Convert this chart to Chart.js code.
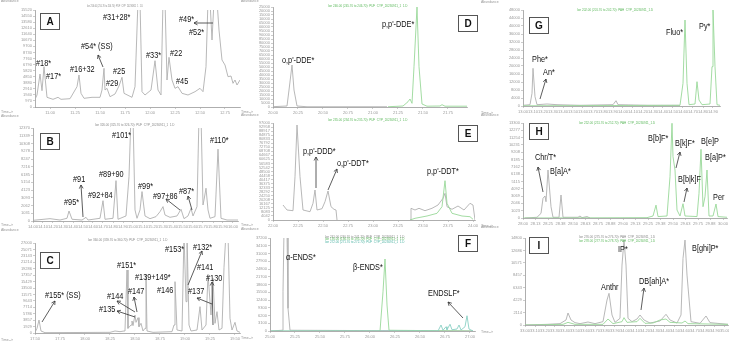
<!DOCTYPE html>
<html><head><meta charset="utf-8">
<script src="https://cdn.jsdelivr.net/npm/chart.js@4"></script>
<style>
body{margin:0;background:#fff;width:729px;height:343px;overflow:hidden;position:relative}
canvas{position:absolute}
</style></head><body>
<canvas id="bg" width="729" height="343" style="left:0;top:0"></canvas>
<script>
// ---------- DATA (retention time in min, abundance) ----------
const A_time=[10.85,10.87,10.90,10.92,10.94,10.97,11.03,11.08,11.11,11.20,11.27,11.29,11.31,11.34,11.42,11.50,11.52,11.54,11.55,11.57,11.60,11.65,11.69,11.72,11.74,11.82,11.85,11.88,11.90,11.92,11.95,12.01,12.05,12.08,12.11,12.13,12.15,12.17,12.19,12.22,12.25,12.28,12.32,12.38,12.45,12.50,12.53,12.56,12.58,12.60,12.62,12.64,12.67,12.69,12.72,12.75,12.78,12.81,12.83,12.85,12.87,12.90];
const A_abund=[1230,1920,5280,2610,6450,1550,1230,1550,1230,1330,3250,5120,2190,1390,1550,1550,2720,6190,2720,2990,1650,2080,3360,4750,2190,1550,3250,17000,17000,2450,1920,2720,7410,2720,1920,17000,17000,4320,7950,4320,2990,3250,2190,1920,2450,2990,2450,6450,17000,17000,10720,17000,17000,12320,7520,6720,4850,4960,3790,4320,3520,4320];

const B_time=[14.00,14.17,14.27,14.34,14.36,14.39,14.49,14.53,14.55,14.67,14.70,14.72,14.80,14.83,14.85,14.93,14.96,14.98,15.00,15.02,15.04,15.07,15.09,15.12,15.17,15.23,15.27,15.30,15.32,15.37,15.44,15.48,15.51,15.55,15.58,15.60,15.64,15.66,15.68,15.70,15.71,15.73,15.75,15.77,15.82,15.85,15.88,15.94,16.05];
const B_abund=[90,310,130,360,1330,230,130,490,130,360,2700,230,360,5370,230,670,5900,14000,14000,1470,360,1470,3910,670,310,580,1240,1910,800,490,670,1560,310,670,1690,670,1910,14000,14000,2130,2800,4360,1470,360,580,9560,360,130,130];

const C_time=[17.50,17.52,17.54,17.56,17.60,18.25,18.30,18.35,18.39,18.40,18.42,18.43,18.46,18.47,18.48,18.50,18.51,18.53,18.54,18.56,18.58,18.60,18.61,18.62,18.68,18.87,18.89,18.90,18.92,18.97,18.99,19.01,19.02,19.04,19.06,19.12,19.15,19.17,19.21,19.23,19.26,19.28,19.30,19.32,19.34,19.37,19.39,19.41,19.43,19.45,19.47,19.50,19.52,19.55];
const C_abund=[200,1400,3900,600,100,200,600,400,600,900,18900,1400,2400,3600,2200,5400,3200,4600,1900,2900,600,1400,17400,600,200,400,2400,15400,900,600,30000,9400,30000,2400,600,900,7900,900,2400,17600,5400,16400,2900,6400,900,1400,19700,30000,30000,4400,900,3200,600,200];

const D_grey_time=[20.00,20.14,20.16,20.19,20.21,20.24,20.34,21.14];
const D_grey=[400,1250,21250,52500,21250,1250,300,300];
const D_green_time=[21.15,21.30,21.35,21.37,21.39,21.41,21.44,21.46,21.49,21.54,21.67,21.69,21.72,21.94];
const D_green=[300,1250,6600,10000,4600,50400,125000,50400,3750,1000,1250,2900,1000,1000];

const E_grey_time=[22.10,22.14,22.20,22.22,22.24,22.27,22.30,22.37,22.40,22.42,22.44,22.49,22.52,22.55,22.58,22.61,22.63,22.64,23.00,23.37,23.38,23.42,23.46,23.52,23.59,23.65,23.70,23.72,23.74,23.79,23.85,23.91,23.97,24.00,24.02];
const E_grey=[15000,10000,9300,43300,95000,43300,10000,8300,16700,30000,10000,11300,18300,29000,13300,10700,10000,0,null,0,11700,10000,11700,9300,11700,15000,21700,26700,13300,10700,14000,10000,16700,15000,0];
const E_green_time=[23.37,23.42,23.54,23.64,23.69,23.72,23.74,23.79,23.89,23.97,24.00];
const E_green=[0,1700,4000,6700,13300,39300,16700,6700,4000,3300,700];

const F_grey_time=[25.01,25.12,25.13,25.14,25.17,25.18,25.20,27.03];
const F_grey=[0,300,15700,40000,40000,9100,300,0];
const F_green_time=[25.01,26.10,26.13,26.15,26.17,26.19,27.03];
const F_green=[0,0,15700,28800,10400,300,0];
const F_teal_time=[25.01,26.68,26.71,26.73,26.76,26.77,26.80,26.82,26.87,26.89,26.91,26.95,26.97,26.99,27.03];
const F_teal=[0,0,2400,300,1700,500,2700,500,800,2400,400,1700,6100,800,0];

const G_grey_time=[13.00,13.07,13.09,13.10,13.12,13.14,13.24,13.34,13.57,13.90,13.93,13.95,14.24,14.57];
const G_grey=[350,650,6350,18850,4650,650,1000,650,350,650,2650,650,350,350];
const G_green_time=[13.00,14.57,14.60,14.62,14.64,14.66,14.72,14.74,14.76,14.79,14.87,14.89,14.90,14.92,14.94,14.97];
const G_green=[100,350,11350,43000,11350,650,1000,12150,3000,650,1000,19650,48000,19650,650,350];

const H_grey_time=[28.02,28.14,28.18,28.20,28.22,28.23,28.25,28.28,28.30,28.36,28.38,28.40,28.55,28.57,28.59,28.64,28.67];
const H_grey=[0,100,650,2760,3080,2280,6720,1580,100,100,3220,100,100,280,50,200,0];
const H_green_time=[28.00,29.24,29.30,29.33,29.35,29.44,29.47,29.49,29.50,29.52,29.54,29.57,29.60,29.62,29.74,29.76,29.78,29.80,29.82,29.84,29.86,29.90,29.93,29.95,30.04];
const H_green=[0,50,280,1800,200,280,5780,13260,8580,6720,1120,280,2000,280,200,3460,9620,1580,2980,6720,280,280,1960,200,100];

const I_grey_time=[33.00,33.22,33.35,33.41,33.43,33.46,33.50,33.55,33.63,33.70,33.78,33.82,33.84,33.87,33.90,33.95,33.97,33.99,34.01,34.03,34.07,34.12,34.15,34.19,34.25,34.35,34.41,34.45,34.52,34.56,34.58,34.60,34.62,34.66,34.75,34.81,34.85,35.03];
const I_grey=[0,110,230,850,2040,850,400,230,510,230,570,4250,5390,1700,450,1130,10200,14450,10200,1130,570,1020,1700,850,340,680,1820,850,340,1700,11330,14450,8500,570,280,1530,400,110];
const I_green_time=[33.00,33.38,33.43,33.50,33.78,33.83,33.88,33.97,33.99,34.02,34.12,34.15,34.20,34.28,34.35,34.41,34.45,34.57,34.60,34.63,35.03];
const I_green=[0,110,450,110,110,1020,230,570,1250,450,570,1130,280,340,850,1020,450,340,680,230,110];

// peak labels [text, time, abundance] and arrows [t1,a1,t2,a2] (tail -> head)
const A_labels=[["#18*",10.86,6880],["#17*",10.96,4800],["#16+32",11.20,5920],["#54* (SS)",11.31,9600],["#29",11.56,3680],["#25",11.63,5600],["#31+28*",11.53,14240],["#33*",11.96,8160],["#22",12.20,8480],["#45",12.26,4000],["#49*",12.29,13920],["#52*",12.39,11840]];
const A_arrows=[[11.53,6400,11.48,8320],[12.63,13440,12.44,13440]];
const B_labels=[["#101*",14.79,11300],["#110*",15.77,10640],["#91",14.40,5450],["#89+90",14.66,6120],["#92+84",14.55,3325],["#95*",14.31,2390],["#99*",15.05,4520],["#97+86",15.20,3190],["#87*",15.46,3860]];
const B_arrows=[[14.50,530,14.48,4790],[15.47,1460,15.33,2930],[15.59,1460,15.55,3325]];
const C_labels=[["#155* (SS)",17.60,11100],["#151*",18.32,20100],["#139+149*",18.50,16500],["#144",18.22,10800],["#147",18.43,12300],["#135",18.14,6900],["#146",18.72,12600],["#153*",18.80,24900],["#132*",19.08,25500],["#141",19.12,19500],["#130",19.21,16200],["#137",19.03,12300]];
const C_arrows=[[17.57,3300,17.70,9600],[18.50,6300,18.32,9600],[18.50,4800,18.32,6600],[18.52,6300,18.49,10800],[19.03,14400,19.17,24600],[19.27,8700,19.12,10500],[19.28,2400,19.27,15300]];
const D_labels=[["o,p'-DDE*",20.09,57500],["p,p'-DDE*",21.09,102500]];
const D_arrows=[];
const E_labels=[["p,p'-DDD*",22.30,68000],["o,p'-DDT*",22.64,56000],["p,p'-DDT*",23.54,48000]];
const E_arrows=[[22.43,32000,22.43,63000],[22.55,30000,22.64,51000]];
const F_labels=[["α-ENDS*",25.16,29200],["β-ENDS*",25.83,25200],["ENDSLF*",26.58,14800]];
const F_arrows=[[26.93,5200,26.78,11600]];
const G_labels=[["Phe*",13.09,23000],["An*",13.20,16500],["Fluo*",14.43,36500],["Py*",14.76,39500]];
const G_arrows=[[13.17,3500,13.23,13500]];
const H_labels=[["Chr/T*",28.12,8400],["B[a]A*",28.27,6440],["B[b]F*",29.25,11060],["B[k]F*",29.52,10360],["B[e]P",29.78,10640],["B[a]P*",29.82,8400],["B[b|k]F",29.55,5320],["Per",29.90,2800]];
const H_arrows=[[28.20,3640,28.15,7140],[29.53,7000,29.57,9240],[29.61,2240,29.64,4200]];
const I_labels=[["Anthr",33.76,6290],["IP*",33.93,12750],["B[ghi]P*",34.67,12920],["DB[ah]A*",34.14,7310]];
const I_arrows=[[34.16,2550,34.19,6290]];

// ---------- STYLE ----------
const GREY='#b0b0b0', GREEN='#98d898', TEAL='#8ad0c4';
const FONT='"Liberation Sans", Arial, sans-serif';
const tag='PUF_CYP_20230911_1_1.D', tagP='PAH_CYP_20230911_1.D';

const PANELS=[
 {name:'A',rect:[35,10,240,107],xr:[10.85,12.90],xs:0.25,ymax:15520,ys:1000,box:[5,3],
  series:[[A_time,A_abund,GREY]],labels:A_labels,arrows:A_arrows,
  titles:[[52,-4,56,'Ion 256.00 (255.70 to 256.70): '+tag,'#888']]},
 {name:'B',rect:[33,128,238,221],xr:[14.00,16.05],xs:0.1,ymax:12370,ys:1000,box:[7,5],
  series:[[B_time,B_abund,GREY]],labels:B_labels,arrows:B_arrows,
  titles:[[62,-3,90,'Ion 326.00 (325.70 to 326.70): '+tag,'#888']]},
 {name:'C',rect:[35,243,240,333],xr:[17.50,19.55],xs:0.25,ymax:27000,ys:2000,box:[5,9],
  series:[[C_time,C_abund,GREY]],labels:C_labels,arrows:C_arrows,
  titles:[[53,-3,87,'Ion 360.00 (359.70 to 360.70): '+tag,'#888']]},
 {name:'D',rect:[273,7,467,107],xr:[20.00,21.94],xs:0.25,ymax:125000,ys:5000,box:[185,8],
  series:[[D_grey_time,D_grey,GREY],[D_green_time,D_green,GREEN]],labels:D_labels,arrows:D_arrows,
  titles:[[55,-1,90,'Ion 246.00 (245.70 to 246.70): '+tag,'#5cb85c']]},
 {name:'E',rect:[273,123,475,220],xr:[22.00,24.02],xs:0.25,ymax:97000,ys:4000,box:[185,2],
  series:[[E_green_time,E_green,GREEN],[E_grey_time,E_grey,GREY]],labels:E_labels,arrows:E_arrows,
  titles:[[55,-3,97,'Ion 235.00 (234.70 to 235.70): '+tag,'#5cb85c']]},
 {name:'F',rect:[270,238,475,331],xr:[25.00,27.05],xs:0.25,ymax:37200,ys:3000,box:[188,-3],
  series:[[F_teal_time,F_teal,TEAL],[F_green_time,F_green,GREEN],[F_grey_time,F_grey,GREY]],labels:F_labels,arrows:F_arrows,
  titles:[[55,-1,92,'Ion 241.00 (240.70 to 241.70): '+tag,'#888'],[55,1.5,92,'Ion 195.00 (194.70 to 195.70): '+tag,'#5cb85c'],[55,4,92,'Ion 272.00 (271.70 to 272.70): '+tag,'#4fb3a3']]},
 {name:'G',rect:[523,10,720,106],xr:[13.00,14.97],xs:0.1,ymax:48000,ys:4000,box:[6,7],
  series:[[G_green_time,G_green,GREEN],[G_grey_time,G_grey,GREY]],labels:G_labels,arrows:G_arrows,
  titles:[[54,0,95,'Ion 202.00 (201.70 to 202.70): '+tagP,'#5cb85c']]},
 {name:'H',rect:[523,123,727,218],xr:[28.00,30.04],xs:0.125,ymax:13300,ys:1000,box:[6,0],
  series:[[H_green_time,H_green,GREEN],[H_grey_time,H_grey,GREY]],labels:H_labels,arrows:H_arrows,
  titles:[[56,0,94,'Ion 252.00 (251.70 to 252.70): '+tagP,'#5cb85c']]},
 {name:'I',rect:[525,238,728,325],xr:[33.00,35.03],xs:0.1,ymax:14800,ys:2000,box:[4,-1],
  series:[[I_green_time,I_green,GREEN],[I_grey_time,I_grey,GREY]],labels:I_labels,arrows:I_arrows,
  titles:[[54,-1,96,'Ion 276.00 (275.70 to 276.70): '+tagP,'#888'],[54,3,96,'Ion 278.00 (277.70 to 278.70): '+tagP,'#5cb85c']]}
];

// small corner captions
const CORNER=[["Abundance",1,1],["Time-->",1,112],["Abundance",1,116],["Time-->",1,225],["Abundance",1,230],["Time-->",1,340],
 ["Abundance",241,1],["Time-->",241,112],["Abundance",241,115],["Time-->",241,225],["Abundance",241,229],["Time-->",241,338],
 ["Abundance",481,2],["Time-->",481,113],["Abundance",481,115],["Time-->",481,226],["Abundance",481,227],["Time-->",481,332]];
(function(){const c=document.getElementById('bg').getContext('2d');c.fillStyle='#999';c.font='3.5px '+FONT;c.textBaseline='middle';
 for(const [t,x,y] of CORNER) c.fillText(t,x,y);})();

const annot={
 id:'annot',
 afterDatasetsDraw(chart,args,o){
  const {ctx,chartArea:a,scales:{x,y}}=chart;
  ctx.save();
  ctx.textBaseline='middle';ctx.textAlign='left';
  for(const [dx,dy,w,t,col] of o.titles){ctx.font='3px '+FONT;ctx.fillStyle=col;ctx.fillText(t,a.left+dx,a.top+dy,w);}
  ctx.strokeStyle='#333';ctx.lineWidth=0.8;
  for(const [x1,y1,x2,y2] of o.arrows){
   const p1x=x.getPixelForValue(x1),p1y=y.getPixelForValue(y1),p2x=x.getPixelForValue(x2),p2y=y.getPixelForValue(y2);
   ctx.beginPath();ctx.moveTo(p1x,p1y);ctx.lineTo(p2x,p2y);
   const ang=Math.atan2(p2y-p1y,p2x-p1x),L=4;
   ctx.moveTo(p2x-L*Math.cos(ang-0.5),p2y-L*Math.sin(ang-0.5));ctx.lineTo(p2x,p2y);
   ctx.lineTo(p2x-L*Math.cos(ang+0.5),p2y-L*Math.sin(ang+0.5));
   ctx.stroke();
  }
  ctx.fillStyle='#111';ctx.font='8.5px '+FONT;
  for(const [t,lx,ly] of o.labels){
   const px=x.getPixelForValue(lx),py=y.getPixelForValue(ly);
   ctx.save();ctx.translate(px,py);ctx.scale(0.86,1);ctx.fillText(t,0,0);ctx.restore();
  }
  const [bx,by]=o.box;
  ctx.strokeStyle='#555';ctx.lineWidth=1;ctx.fillStyle='#fff';
  ctx.fillRect(a.left+bx+0.5,a.top+by+0.5,19,16);
  ctx.strokeRect(a.left+bx+0.5,a.top+by+0.5,19,16);
  ctx.fillStyle='#111';ctx.font='bold 10px '+FONT;ctx.textAlign='center';
  ctx.fillText(o.name,a.left+bx+10,a.top+by+9);
  ctx.restore();
 }
};

const PADR=12;
for(const p of PANELS){
 const [L,T,R,B]=p.rect;
 const cv=document.createElement('canvas');
 const W=R-L+14+PADR,H=B-T+14;
 cv.width=W;cv.height=H;cv.style.left=(L-14)+'px';cv.style.top=(T-6)+'px';
 document.body.appendChild(cv);
 const axisCommon={
  grid:{display:true,drawOnChartArea:false,drawTicks:true,tickLength:2,color:'#aaa',lineWidth:0.6},
  border:{display:true,color:'#999',width:0.8}
 };
 new Chart(cv,{
  type:'line',
  data:{datasets:p.series.map(([xs,ys,c])=>({
   data:xs.map((t,i)=>({x:t,y:ys[i]})),borderColor:c,borderWidth:0.9,pointRadius:0,tension:0,fill:false,spanGaps:false
  }))},
  options:{
   responsive:false,animation:false,devicePixelRatio:1,
   layout:{padding:{top:6,right:PADR,left:0,bottom:0}},
   plugins:{legend:{display:false},tooltip:{enabled:false},
    annot:{name:p.name,labels:p.labels,arrows:p.arrows,box:p.box,titles:p.titles}},
   scales:{
    x:{type:'linear',min:p.xr[0],max:p.xr[1],afterFit(s){s.height=8;},...axisCommon,
     ticks:{stepSize:p.xs,autoSkip:false,maxRotation:0,padding:1,includeBounds:false,color:'#999',font:{size:4,family:FONT},callback:v=>Number(v).toFixed(2)}},
    y:{type:'linear',min:0,max:p.ymax,afterFit(s){s.width=14;},...axisCommon,
     ticks:{stepSize:p.ys,autoSkip:false,padding:1,includeBounds:false,color:'#999',font:{size:4,family:FONT},callback:v=>String(Math.round(v))}}
   }
  },
  plugins:[annot]
 });
}
</script>
</body></html>
